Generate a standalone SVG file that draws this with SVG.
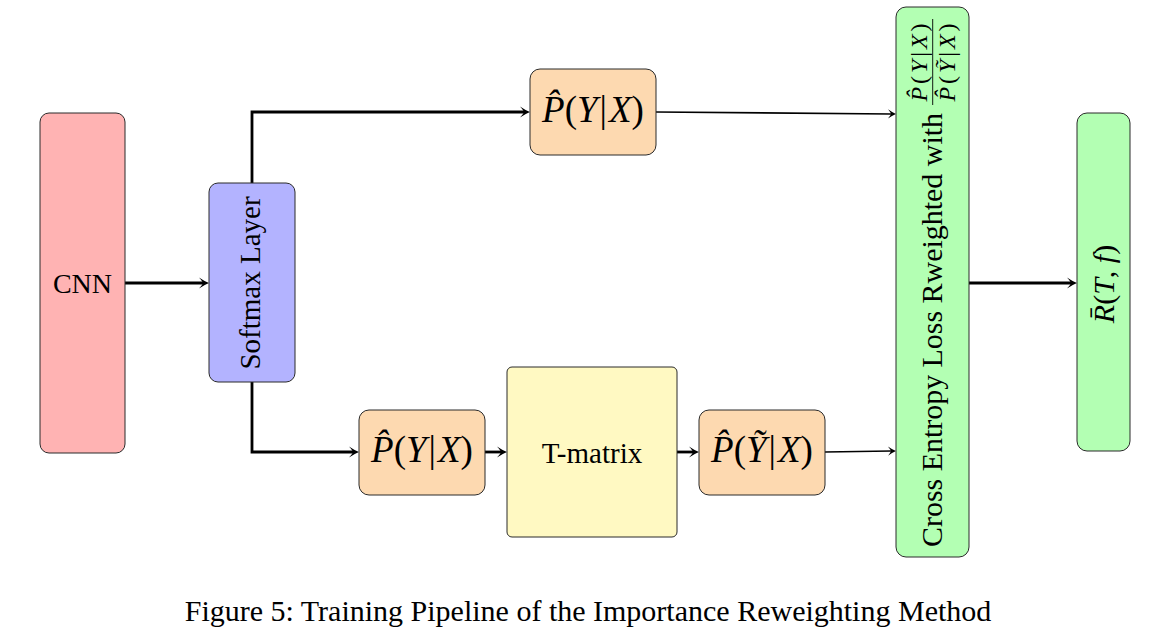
<svg xmlns="http://www.w3.org/2000/svg" width="1154" height="639" viewBox="0 0 1154 639">
<style>
.box{stroke:#2a2a2a;stroke-width:1}
.t{font-family:"Liberation Serif","Times New Roman",serif;fill:#000}
.m{font-family:"Liberation Serif","Times New Roman",serif;font-style:italic;fill:#000}
.up{font-style:normal}
.c{fill:none;stroke:#000;stroke-linejoin:miter}
.thick{stroke-width:2.8}
.thin{stroke-width:1.6}
</style>
<defs>
<marker id="ah" viewBox="-6 -7 14 14" refX="0" refY="0" markerWidth="14" markerHeight="14" markerUnits="userSpaceOnUse" orient="auto">
<path d="M6,0 Q1,-2 -4,-5.5 Q0,-1 0,0 Q0,1 -4,5.5 Q1,2 6,0 Z" fill="#000"/>
</marker>
<marker id="ahs" viewBox="-6 -7 14 14" refX="0" refY="0" markerWidth="14" markerHeight="14" markerUnits="userSpaceOnUse" orient="auto">
<path d="M5,0 Q1,-1.6 -3,-4.6 Q0,-0.8 0,0 Q0,0.8 -3,4.6 Q1,1.6 5,0 Z" fill="#000"/>
</marker>
</defs>
<rect width="1154" height="639" fill="#fff"/>

<g id="connectors">
<path class="c thick" d="M125,283 H203" marker-end="url(#ah)"/>
<path class="c thick" d="M252,183 V112 H524" marker-end="url(#ah)"/>
<path class="c thin" d="M656,112 L891,114" marker-end="url(#ahs)"/>
<path class="c thick" d="M252,382 V452 H353" marker-end="url(#ah)"/>
<path class="c thick" d="M485,452 H501" marker-end="url(#ah)"/>
<path class="c thick" d="M677,452 H693" marker-end="url(#ah)"/>
<path class="c thin" d="M825,452 L891,451" marker-end="url(#ahs)"/>
<path class="c thick" d="M969,283 H1071" marker-end="url(#ah)"/>
</g>

<g id="cnn">
<rect class="box" x="40" y="113" width="85" height="340" rx="9" fill="#ffb3b3"/>
<text class="t" x="82.5" y="293" font-size="28" text-anchor="middle">CNN</text>
</g>

<g id="softmax">
<rect class="box" x="209" y="183" width="86" height="199" rx="9" fill="#b3b3ff"/>
<text class="t" font-size="29" text-anchor="middle" transform="translate(260,283) rotate(-90)">Softmax Layer</text>
</g>

<g id="p-top">
<rect class="box" x="530" y="69" width="126" height="86" rx="10" fill="#fdd9b0"/>
<text class="m" x="593" y="122" font-size="37" text-anchor="middle">P̂<tspan class="up">(</tspan>Y<tspan class="up" dx="2">|</tspan><tspan dx="2">X</tspan><tspan class="up">)</tspan></text>
</g>

<g id="p-bottom">
<rect class="box" x="359" y="410" width="126" height="85" rx="10" fill="#fdd9b0"/>
<text class="m" x="422" y="462" font-size="37" text-anchor="middle">P̂<tspan class="up">(</tspan>Y<tspan class="up" dx="2">|</tspan><tspan dx="2">X</tspan><tspan class="up">)</tspan></text>
</g>

<g id="tmatrix">
<rect class="box" x="507" y="367" width="170" height="170" rx="5" fill="#fff9c2"/>
<text class="t" x="592" y="463" font-size="29" text-anchor="middle">T-matrix</text>
</g>

<g id="p-tilde">
<rect class="box" x="699" y="410" width="126" height="85" rx="10" fill="#fdd9b0"/>
<text class="m" x="762" y="462" font-size="37" text-anchor="middle">P̂<tspan class="up">(</tspan>Ỹ<tspan class="up" dx="2">|</tspan><tspan dx="2">X</tspan><tspan class="up">)</tspan></text>
</g>

<g id="loss">
<rect class="box" x="896" y="7" width="73" height="550" rx="10" fill="#b3ffb3"/>
<text class="t" font-size="30" textLength="434" lengthAdjust="spacingAndGlyphs" transform="translate(942,547) rotate(-90)">Cross Entropy Loss Rweighted with</text>
<text class="m" font-size="24" text-anchor="middle" textLength="78" transform="translate(927,62.5) rotate(-90)">P̂<tspan class="up">(</tspan>Y<tspan class="up">|</tspan>X<tspan class="up">)</tspan></text>
<line x1="932.7" y1="19" x2="932.7" y2="105" stroke="#000" stroke-width="0.9"/>
<text class="m" font-size="24" text-anchor="middle" textLength="78" transform="translate(955,62.5) rotate(-90)">P̂<tspan class="up">(</tspan>Ỹ<tspan class="up">|</tspan>X<tspan class="up">)</tspan></text>
</g>

<g id="risk">
<rect class="box" x="1077" y="113" width="53" height="338" rx="10" fill="#b3ffb3"/>
<text class="m" font-size="30" text-anchor="middle" transform="translate(1114,284) rotate(-90)">R̄<tspan class="up">(</tspan>T<tspan class="up">, </tspan>f<tspan class="up">)</tspan></text>
</g>

<text class="t" x="588" y="621" font-size="30" text-anchor="middle">Figure 5: Training Pipeline of the Importance Reweighting Method</text>
</svg>
